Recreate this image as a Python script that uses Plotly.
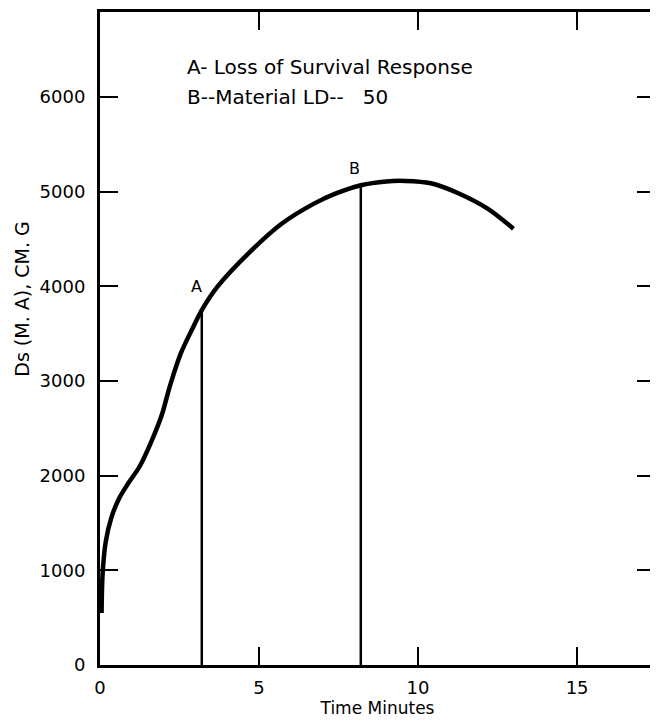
import plotly.graph_objects as go

# Curve data (time in minutes, dose)
time_min = [0.05, 0.08, 0.18, 0.35, 0.6, 0.85, 1.25, 1.6, 1.95, 2.2, 2.55, 2.9, 3.2,
            3.7, 4.7, 5.7, 6.7, 7.4, 8.2, 9.0, 9.6, 10.4, 11.3, 12.2, 13.0]
dose = [550, 950, 1300, 1550, 1760, 1900, 2100, 2350, 2650, 2950, 3300, 3550, 3750,
        4000, 4360, 4660, 4870, 4980, 5070, 5110, 5115, 5090, 4980, 4820, 4610]

# Marker points A and B
marker_names = ["A", "B"]
marker_time = [3.2, 8.2]
marker_dose = [3750, 5070]

legend_lines = ["A- Loss of Survival Response", "B--Material LD--\u00a0\u00a0\u00a050"]

x_ticks = [0, 5, 10, 15]
y_ticks = [0, 1000, 2000, 3000, 4000, 5000, 6000]

FONT = "DejaVu Sans, Liberation Sans, Arial, sans-serif"

fig = go.Figure()
fig.add_trace(go.Scatter(x=time_min, y=dose, mode="lines",
                         line=dict(color="black", width=4.5, shape="spline", smoothing=0.8),
                         showlegend=False, hoverinfo="skip"))

vx, vy = [], []
for t, d in zip(marker_time, marker_dose):
    vx += [t, t, None]
    vy += [0, d, None]
fig.add_trace(go.Scatter(x=vx, y=vy, mode="lines",
                         line=dict(color="black", width=2.5),
                         showlegend=False, hoverinfo="skip"))

for name, t, d in zip(marker_names, marker_time, marker_dose):
    fig.add_annotation(x=t, y=d, text=name, showarrow=False,
                       xanchor="right" if name == "A" else "center", yanchor="bottom",
                       xshift=2 if name == "A" else -6, yshift=12 if name == "A" else 5,
                       font=dict(family=FONT, size=16, color="black"))

for i, line in enumerate(legend_lines):
    fig.add_annotation(x=2.67, y=6320 - i * 316, text=line, showarrow=False,
                       xanchor="left", yanchor="middle",
                       font=dict(family=FONT, size=20, color="black"))

fig.add_annotation(xref="paper", yref="y", x=-0.1405, y=3860, xanchor="center",
                   text="Ds (M. A), CM. G", textangle=-90, showarrow=False,
                   font=dict(family=FONT, size=19, color="black"))

fig.update_xaxes(range=[0, 17.45], tickvals=x_ticks, ticktext=[str(v) for v in x_ticks],
                 ticks="inside", ticklen=18, tickwidth=2, tickcolor="black",
                 showline=True, linewidth=3, linecolor="black", mirror="ticks",
                 showgrid=False, zeroline=False, automargin=False,
                 tickfont=dict(family=FONT, size=18, color="black"),
                 ticklabelstandoff=4,
                 title=dict(text="Time Minutes", standoff=4,
                            font=dict(family=FONT, size=17, color="black")))
fig.update_yaxes(range=[0, 6900], tickvals=y_ticks, ticktext=[str(v) for v in y_ticks],
                 ticks="inside", ticklen=18, tickwidth=2, tickcolor="black",
                 showline=True, linewidth=3, linecolor="black", mirror="ticks",
                 showgrid=False, zeroline=False, automargin=False,
                 tickfont=dict(family=FONT, size=18, color="black"),
                 ticklabelstandoff=8)

# the page body adds an 8px offset, so margins are shifted accordingly
fig.update_layout(width=658, height=721, plot_bgcolor="white", paper_bgcolor="white",
                  margin=dict(l=92, r=11, t=4, b=64), showlegend=False)

fig.write_html("out.html")
